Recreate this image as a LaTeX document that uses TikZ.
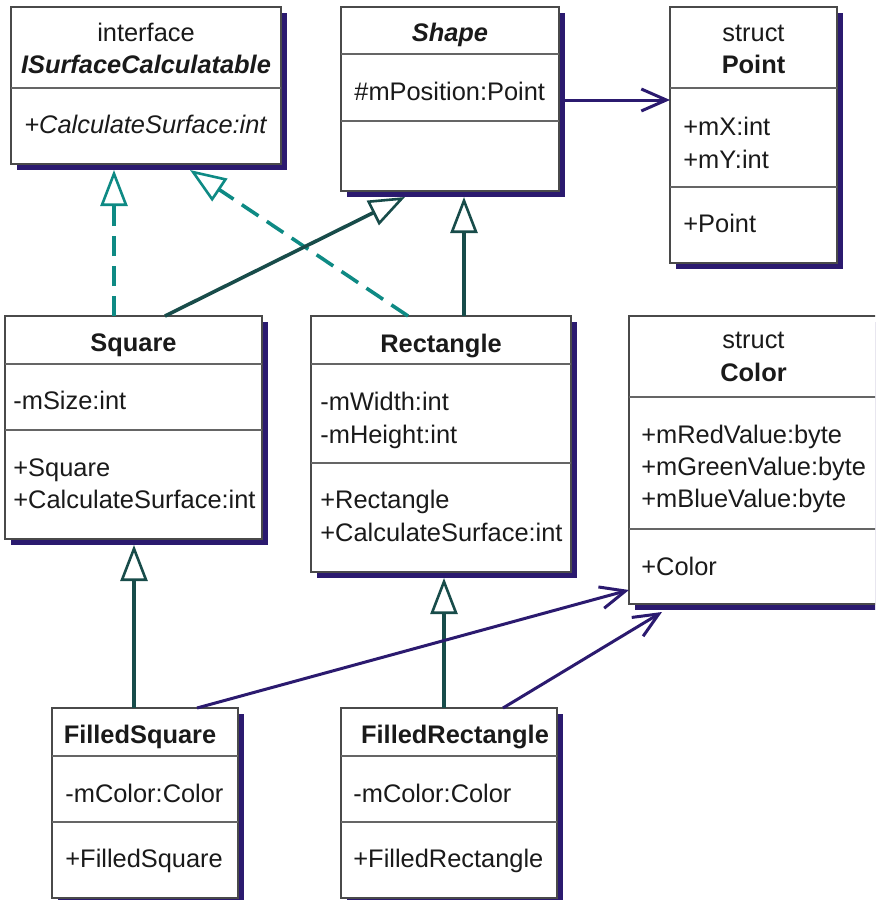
\documentclass[tikz,border=0pt]{standalone}
\usepackage{fontspec}
\setmainfont{Liberation Sans}
\usetikzlibrary{arrows.meta,calc,shadows}
\definecolor{ink}{HTML}{1A1A1A}
\definecolor{rim}{HTML}{4A4A4A}
\definecolor{navy}{HTML}{2B1A6F}
\definecolor{pine}{HTML}{184C4A}
\definecolor{aqua}{HTML}{0E8A84}
\newcommand\umlfont{\fontsize{12.7}{16}\selectfont}
\tikzset{
  cls/.style={draw=rim, fill=white, line width=0.6pt, inner sep=0pt, outer sep=0pt, anchor=north west,
    drop shadow={shadow xshift=3pt, shadow yshift=-3pt, fill=navy, opacity=1}},
  divider/.style={draw=rim!85, line width=0.6pt},
  ttl/.style={font=\umlfont\bfseries, text=ink, anchor=base, inner sep=0pt},
  ster/.style={font=\umlfont, text=ink, anchor=base, inner sep=0pt},
  mem/.style={font=\umlfont, text=ink, anchor=base west, inner sep=0pt},
  gen/.style={-{Triangle[open,length=18pt,width=13.5pt,line width=1.3pt]}, line width=1.8pt, color=pine},
  real/.style={gen, color=aqua, dash pattern=on 10pt off 5pt},
  assoc/.style={-{Straight Barb[length=12.5pt,width=11pt]}, line width=1.5pt, color=navy},
}
\begin{document}
\begin{tikzpicture}[x=0.5pt,y=-0.5pt]
  \path[use as bounding box, clip] (0,0) rectangle (875,900);
  % class boxes
  \foreach \n/\x/\y/\w/\h in {iface/11/7/270/157, shape/341/7/218/184, point/670/7/167/256,
                              square/5/316/257/223, rect/311/316/260/256, color/629/316/249/288,
                              fsquare/52/708/186/190, frect/341/708/216/190} {
    \node[cls, minimum width=\w*0.5pt, minimum height=\h*0.5pt] (\n) at (\x,\y) {};
  }
  \foreach \n/\d in {iface/81, shape/47, shape/114, point/81, point/180, square/48, square/114,
                     rect/48, rect/147, color/81, color/213, fsquare/48, fsquare/114, frect/48, frect/114} {
    \draw[divider] ($(\n.north west)+(0,\d)$) -- ($(\n.north east)+(0,\d)$);
  }

  % ISurfaceCalculatable
  \node[ster] (ifaceS) at ($(iface.north)+(0,34)$) {interface};
  \node[ttl, font=\umlfont\bfseries\itshape] (ifaceT) at ($(iface.north)+(0,66)$) {ISurfaceCalculatable};
  \node[mem, font=\umlfont\itshape] (ifaceM) at ($(iface.north west)+(13,126)$) {+CalculateSurface:int};
  % Shape
  \node[ttl, font=\umlfont\bfseries\itshape] (shapeT) at ($(shape.north)+(0,34)$) {Shape};
  \node[mem] (shapeA) at ($(shape.north west)+(13,93)$) {\#mPosition:Point};
  % Point
  \node[ster] (pointS) at ($(point.north)+(0,34)$) {struct};
  \node[ttl] (pointT) at ($(point.north)+(0,66)$) {Point};
  \foreach \t/\d in {+mX:int/128, +mY:int/161, +Point/225}
    \node[mem] at ($(point.north west)+(13,\d)$) {\t};
  % Square
  \node[ttl] (squareT) at ($(square.north)+(0,35)$) {Square};
  \foreach \t/\d in {-mSize:int/93, +Square/160, +CalculateSurface:int/192}
    \node[mem] at ($(square.north west)+(8,\d)$) {\t};
  % Rectangle
  \node[ttl] (rectT) at ($(rect.north)+(0,36)$) {Rectangle};
  \foreach \t/\d in {-mWidth:int/94, -mHeight:int/127, +Rectangle/192, +CalculateSurface:int/225}
    \node[mem] at ($(rect.north west)+(9,\d)$) {\t};
  % Color
  \node[ster] (colorS) at ($(color.north)+(0,32)$) {struct};
  \node[ttl] (colorT) at ($(color.north)+(0,65)$) {Color};
  \foreach \t/\d in {+mRedValue:byte/127, +mGreenValue:byte/159, +mBlueValue:byte/191, +Color/259}
    \node[mem] at ($(color.north west)+(12,\d)$) {\t};
  % FilledSquare
  \node[ttl] (fsquareT) at ($(fsquare.north)+(-5,35)$) {FilledSquare};
  \foreach \t/\d in {-mColor:Color/94, +FilledSquare/159}
    \node[mem] at ($(fsquare.north west)+(13,\d)$) {\t};
  % FilledRectangle
  \node[ttl] (frectT) at ($(frect.north)+(6,35)$) {FilledRectangle};
  \foreach \t/\d in {-mColor:Color/94, +FilledRectangle/159}
    \node[mem] at ($(frect.north west)+(12,\d)$) {\t};

  % relations
  \draw[real] ($(square.north west)+(109,0)$) -- ($(iface.south west)+(103,6)$);
  \draw[real] ($(rect.north west)+(97,0)$) -- ($(iface.south west)+(179,6)$);
  \draw[gen] ($(square.north west)+(160,0)$) -- ($(shape.south west)+(64,6)$);
  \draw[gen] ($(rect.north west)+(153,0)$) -- ($(shape.south west)+(123,6)$);
  \draw[assoc] ($(shape.north east)+(6,93)$) -- ($(point.north west)+(0,93)$);
  \draw[gen] ($(fsquare.north west)+(82,0)$) -- ($(square.south west)+(129,6)$);
  \draw[gen] ($(frect.north west)+(103,0)$) -- ($(rect.south west)+(133,6)$);
  \draw[assoc] ($(fsquare.north west)+(145,0)$) -- ($(color.south west)+(0,-14)$);
  \draw[assoc] ($(frect.north west)+(162,0)$) -- ($(color.south west)+(33,8)$);
\end{tikzpicture}
\end{document}
